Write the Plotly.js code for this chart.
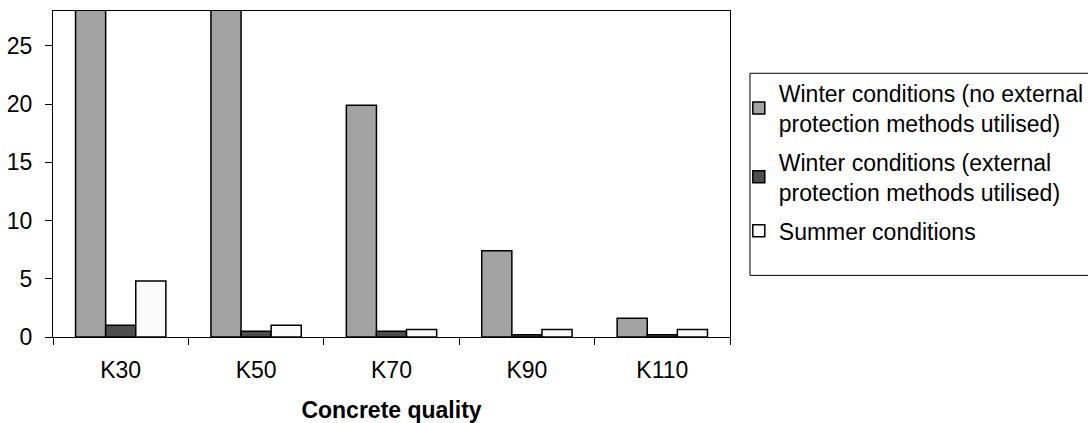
<!DOCTYPE html>
<html>
<head>
<meta charset="utf-8">
<script src="https://cdn.plot.ly/plotly-3.0.1.min.js"></script>
<style>html,body{margin:0;padding:0;background:#fff;}#chart{width:1088px;height:423px;}</style>
</head>
<body>
<div id="chart"></div>
<script>
const categories = ["K30", "K50", "K70", "K90", "K110"];
const seriesNames = [
  "Winter conditions (no external<br>protection methods utilised)",
  "Winter conditions (external<br>protection methods utilised)",
  "Summer conditions"
];
// K30 and K50 winter (no protection) bars run past the top of the axis
const winterNoProtection = [30, 30, 19.9, 7.4, 1.6];
const winterProtection = [1.0, 0.5, 0.5, 0.2, 0.2];
const summer = [4.8, 1.0, 0.65, 0.65, 0.65];
const colors = ["#A3A3A3", "#4D4D4D", "#FBFBFB"];

const seriesValues = [winterNoProtection, winterProtection, summer];
const traces = seriesValues.map((vals, i) => ({
  type: "bar",
  name: seriesNames[i],
  legendgroup: "g" + i,
  x: categories,
  y: vals,
  marker: {color: colors[i], line: {color: "#000", width: 1.5}},
  hoverinfo: "skip"
}));

const fam = "Liberation Sans, Arial, sans-serif";
const layout = {
  width: 1088, height: 423,
  margin: {l: 53, r: 358, t: 11, b: 86, autoexpand: false},
  paper_bgcolor: "#fff", plot_bgcolor: "#fff",
  font: {family: fam, size: 23, color: "#000"},
  barmode: "group",
  bargap: 0.333, bargroupgap: 0,
  showlegend: true,
  legend: {
    x: 1.013, xanchor: "left", y: 0.814, yanchor: "top",
    bgcolor: "rgba(0,0,0,0)", borderwidth: 0,
    font: {family: fam, size: 23, color: "#000"},
    traceorder: "grouped", tracegroupgap: 6
  },
  xaxis: {
    type: "category",
    showline: true, linecolor: "#000", linewidth: 1, mirror: true,
    ticks: "outside", tickson: "boundaries", ticklen: 7, tickcolor: "#000",
    ticklabelstandoff: 12,
    tickfont: {family: fam, size: 23, color: "#000"},
    showgrid: false, zeroline: false,
    title: {text: "<b>Concrete quality</b>", font: {family: fam, size: 23, color: "#000"}, standoff: 24}
  },
  yaxis: {
    range: [0, 28],
    tickvals: [0, 5, 10, 15, 20, 25],
    showline: true, linecolor: "#000", linewidth: 1, mirror: true,
    ticks: "outside", ticklen: 7, tickcolor: "#000",
    ticklabelstandoff: 8,
    tickfont: {family: fam, size: 23, color: "#000"},
    showgrid: false, zeroline: false
  },
  shapes: [{
    type: "rect", xref: "paper", yref: "paper",
    x0: 1.0295, x1: 1.6, y0: 0.189, y1: 0.809,
    line: {color: "#000", width: 1}, fillcolor: "rgba(0,0,0,0)"
  }]
};
Plotly.newPlot("chart", traces, layout, {staticPlot: true});
</script>
</body>
</html>
